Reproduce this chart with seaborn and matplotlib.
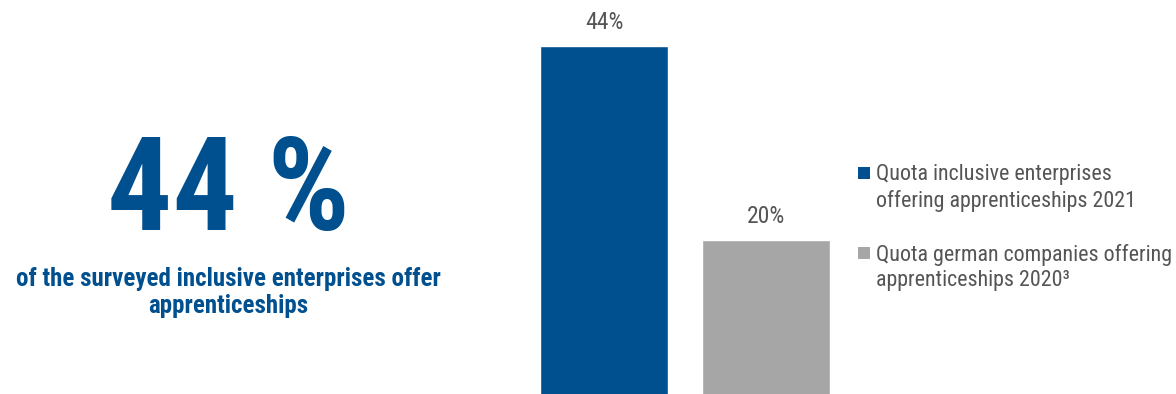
import matplotlib
matplotlib.use("Agg")
import matplotlib.pyplot as plt
from matplotlib import font_manager
from matplotlib.lines import Line2D
import seaborn as sns

# --- data -------------------------------------------------------------
categories = ["Inclusive enterprises 2021", "German companies 2020"]
values = [44, 20]
legend_labels = [
    "Quota inclusive enterprises\noffering apprenticeships 2021",
    "Quota german companies offering\napprenticeships 2020\u00b3",
]
headline_value = "44 %"
headline_text = "of the surveyed inclusive enterprises offer\napprenticeships"

# --- style ------------------------------------------------------------
BLUE = "#004f8f"
GREY = "#a6a6a6"
TEXT_GREY = "#555555"
palette = [BLUE, GREY]

sns.set_theme(style="white")

available = {f.name for f in font_manager.fontManager.ttflist}
narrow = next((n for n in ["Liberation Sans Narrow", "Roboto Condensed",
                           "Open Sans Condensed", "Liberation Sans"]
               if n in available), "DejaVu Sans")
plt.rcParams["font.family"] = [narrow, "DejaVu Sans"]

fig = plt.figure(figsize=(11.76, 3.94), dpi=100)

# bar axes: spans the two bars, baseline slightly below the canvas
W, H = 1176.0, 394.0
ax = fig.add_axes([540 / W, -7.7 / H, 290 / W, 401.7 / H])

sns.barplot(x=categories, y=values, hue=categories, palette=palette,
            width=0.79, legend=False, ax=ax, saturation=1)
ax.set_xlim(-0.395, 1.395)
ax.set_ylim(0, 49.7)
ax.set_axis_off()

for cont, v in zip(ax.containers, values):
    ax.bar_label(cont, labels=[f"{v}%"], padding=9, fontsize=17,
                 color=TEXT_GREY, clip_on=False)

# headline figure and caption on the left
fig.text(228 / W, 1 - 230 / H, headline_value, ha="center", va="baseline",
         fontsize=93, fontweight="bold", color=BLUE)
# multi-line text: the baseline anchor is the last line
fig.text(228 / W, 1 - 313 / H, headline_text, ha="center", va="baseline",
         multialignment="center", fontsize=18, fontweight="bold",
         color=BLUE, linespacing=1.15)

# legend with square markers aligned to the first text line
handles = [Line2D([], [], linestyle="none", marker="s", markersize=8.6,
                  markerfacecolor=c, markeredgewidth=0) for c in palette]
leg = fig.legend(handles, legend_labels, loc="upper left",
                 bbox_to_anchor=(858 / W, 1 - 164 / H), frameon=False,
                 borderpad=0, borderaxespad=0, handlelength=0.55,
                 handleheight=1.1, handletextpad=0.25, labelspacing=1.45,
                 fontsize=15.8, labelcolor=TEXT_GREY)
for txt in leg.get_texts():
    txt.set_linespacing(1.28)
for col in leg._legend_handle_box.get_children():
    for item in col.get_children():
        item.align = "top"

fig.savefig("out.png", dpi=100)
